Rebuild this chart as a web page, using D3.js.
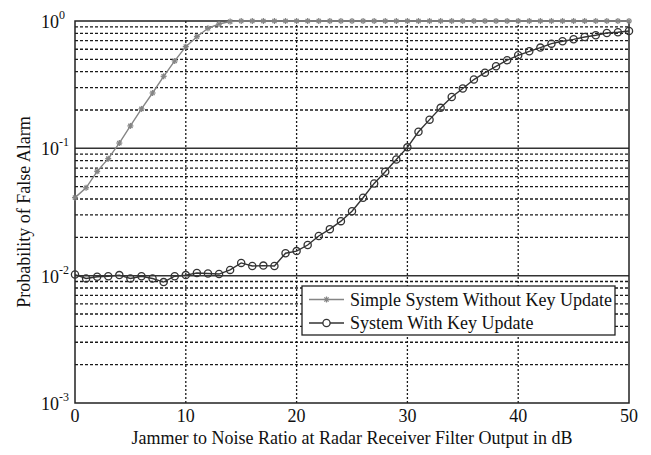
<!DOCTYPE html>
<html>
<head>
<meta charset="utf-8">
<script src="https://cdn.jsdelivr.net/npm/d3@7"></script>
<style>
  body { margin: 0; background: #fff; }
  svg { display: block; font-family: "Liberation Serif", "DejaVu Serif", serif; }
</style>
</head>
<body>
<svg width="651" height="455"></svg>
<script>
// chart data
const jnr = d3.range(0, 51);
const simpleNoUpdate = [0.041, 0.049, 0.066, 0.083, 0.11, 0.15, 0.204, 0.272, 0.368, 0.486,
  0.629, 0.753, 0.877, 0.947, 0.99, 1, 1, 1, 1, 1,
  1, 1, 1, 1, 1, 1, 1, 1, 1, 1,
  1, 1, 1, 1, 1, 1, 1, 1, 1, 1,
  1, 1, 1, 1, 1, 1, 1, 1, 1, 1, 1];
const withKeyUpdate = [0.0102, 0.0095, 0.0098, 0.0099, 0.0101, 0.0095, 0.0099, 0.0095, 0.0089, 0.0099,
  0.0101, 0.0105, 0.0104, 0.0103, 0.0111, 0.0126, 0.0119, 0.0120, 0.0119, 0.0150,
  0.0156, 0.0174, 0.0205, 0.0232, 0.0268, 0.0321, 0.0409, 0.053, 0.0654, 0.0817,
  0.1018, 0.135, 0.168, 0.208, 0.253, 0.295, 0.347, 0.393, 0.441, 0.492,
  0.538, 0.578, 0.618, 0.664, 0.693, 0.718, 0.749, 0.772, 0.805, 0.815, 0.835];
const xTicks = [0, 10, 20, 30, 40, 50];
const yExps = [0, -1, -2, -3];
const legendLabels = ["Simple System Without Key Update", "System With Key Update"];

const svg = d3.select("svg");
const plotL = 75, plotR = 629, plotT = 21, plotB = 403;

const x = d3.scaleLinear().domain([0, 50]).range([plotL, plotR]);
const y = d3.scaleLog().domain([1e-3, 1]).range([plotB, plotT]);

const grid = svg.append("g");

// minor horizontal grid (dashed)
const minor = [];
[-3, -2, -1].forEach(e => {
  for (let k = 2; k <= 9; k++) minor.push(k * Math.pow(10, e));
});
grid.selectAll("line.minor").data(minor).enter().append("line")
  .attr("x1", plotL).attr("x2", plotR)
  .attr("y1", d => y(d)).attr("y2", d => y(d))
  .attr("stroke", "#1a1a1a").attr("stroke-width", 1.3)
  .attr("stroke-dasharray", "3,2");

// decade lines (solid)
grid.selectAll("line.major").data([0.1, 0.01]).enter().append("line")
  .attr("x1", plotL).attr("x2", plotR)
  .attr("y1", d => y(d)).attr("y2", d => y(d))
  .attr("stroke", "#333").attr("stroke-width", 1.5);

// vertical grid (dotted)
grid.selectAll("line.v").data(xTicks.slice(1, -1)).enter().append("line")
  .attr("x1", d => x(d)).attr("x2", d => x(d))
  .attr("y1", plotT).attr("y2", plotB)
  .attr("stroke", "#1a1a1a").attr("stroke-width", 1.3)
  .attr("stroke-dasharray", "2,2");

// axes box
svg.append("rect")
  .attr("x", plotL).attr("y", plotT)
  .attr("width", plotR - plotL).attr("height", plotB - plotT)
  .attr("fill", "none").attr("stroke", "#222").attr("stroke-width", 1.5);

// x tick labels
svg.append("g").selectAll("text").data(xTicks).enter().append("text")
  .attr("x", d => x(d)).attr("y", plotB + 19)
  .attr("text-anchor", "middle").attr("font-size", 18).attr("fill", "#111")
  .text(d => d);

// y tick labels 10^e
const yl = svg.append("g").selectAll("text").data(yExps).enter().append("text")
  .attr("x", 41).attr("y", d => y(Math.pow(10, d)) + 7)
  .attr("font-size", 18).attr("fill", "#111");
yl.append("tspan").text("10");
yl.append("tspan").attr("dy", -9).attr("font-size", 12).text(d => d);

// axis titles
svg.append("text")
  .attr("x", (plotL + plotR) / 2).attr("y", 444)
  .attr("text-anchor", "middle").attr("font-size", 18).attr("fill", "#111")
  .text("Jammer to Noise Ratio at Radar Receiver Filter Output in dB");
svg.append("text")
  .attr("transform", `translate(30,${(plotT + plotB) / 2}) rotate(-90)`)
  .attr("text-anchor", "middle").attr("font-size", 18).attr("fill", "#111")
  .text("Probability of False Alarm");

const line = d3.line().x(d => x(d[0])).y(d => y(d[1]));
const grayC = "#858585", darkC = "#333";

function star(g, cx, cy, r, color) {
  [0, 45, 90, 135].forEach(a => {
    const rad = a * Math.PI / 180;
    g.append("line")
      .attr("x1", cx - r * Math.cos(rad)).attr("y1", cy - r * Math.sin(rad))
      .attr("x2", cx + r * Math.cos(rad)).attr("y2", cy + r * Math.sin(rad))
      .attr("stroke", color).attr("stroke-width", 1.3);
  });
}

// series 1: gray with stars
const s1 = jnr.map((d, i) => [d, simpleNoUpdate[i]]);
svg.append("path").datum(s1).attr("d", line)
  .attr("fill", "none").attr("stroke", grayC).attr("stroke-width", 1.4);
const g1 = svg.append("g");
s1.forEach(d => star(g1, x(d[0]), y(d[1]), 3, grayC));

// series 2: dark with circles
const s2 = jnr.map((d, i) => [d, withKeyUpdate[i]]);
svg.append("path").datum(s2).attr("d", line)
  .attr("fill", "none").attr("stroke", darkC).attr("stroke-width", 1.4);
svg.append("g").selectAll("circle").data(s2).enter().append("circle")
  .attr("cx", d => x(d[0])).attr("cy", d => y(d[1])).attr("r", 3.6)
  .attr("fill", "none").attr("stroke", darkC).attr("stroke-width", 1.3);

// legend
const lg = svg.append("g");
lg.append("rect").attr("x", 302).attr("y", 286).attr("width", 313).attr("height", 49)
  .attr("fill", "#fff").attr("stroke", "#222").attr("stroke-width", 1.3);
const rows = [{c: grayC, m: "star"}, {c: darkC, m: "circle"}];
rows.forEach((r, i) => {
  const ly = 299.5 + i * 23.5;
  lg.append("line").attr("x1", 309).attr("x2", 344).attr("y1", ly).attr("y2", ly)
    .attr("stroke", r.c).attr("stroke-width", 1.4);
  if (r.m === "star") star(lg, 326.5, ly, 3, r.c);
  else lg.append("circle").attr("cx", 326.5).attr("cy", ly).attr("r", 3.6)
    .attr("fill", "#fff").attr("stroke", r.c).attr("stroke-width", 1.3);
  lg.append("text").attr("x", 350).attr("y", ly + 6)
    .attr("font-size", 18).attr("fill", "#111").text(legendLabels[i]);
});
</script>
</body>
</html>
